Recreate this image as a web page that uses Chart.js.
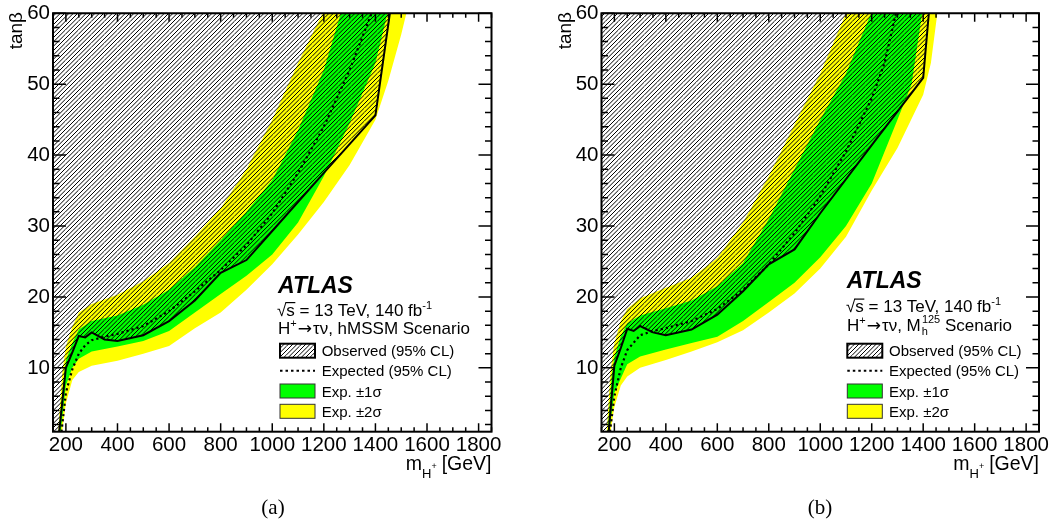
<!DOCTYPE html>
<html lang="en">
<head>
<meta charset="UTF-8">
<title>H+ to tau nu exclusion in the (m_H+, tan beta) plane</title>
<script src="https://cdn.jsdelivr.net/npm/chart.js"></script>
<style>
  body { margin: 0; background: #fff; width: 1055px; height: 524px; overflow: hidden; position: relative; }
  canvas { position: absolute; top: 0; }
  #chartA { left: 0; }
  #chartB { left: 527px; }
</style>
</head>
<body>
<canvas id="chartA" width="527" height="524"></canvas>
<canvas id="chartB" width="528" height="524"></canvas>
<script>
// axis tick labels, shared by both panels
const xTickLabels = [200, 400, 600, 800, 1000, 1200, 1400, 1600, 1800];
const yTickLabels = [10, 20, 30, 40, 50, 60];

// every curve is a list of [m_H+ (GeV), tanβ]

// (a) hMSSM scenario
const obsA = [[174,1],[200,10.0],[225,12.2],[250,14.5],[275,14.3],[300,15.0],[350,14.0],[400,13.8],[500,14.6],
              [600,16.6],[700,19.5],[800,23.4],[900,25.2],[1000,29.3],[1200,37.5],[1400,45.6],[1456,60]];
const expA = [[183,1],[200,6.5],[225,9.8],[250,12.0],[275,13.2],[300,13.9],[350,14.4],[400,14.8],[500,15.9],
              [600,18.0],[700,20.8],[800,23.8],[900,27.3],[1000,31.8],[1100,37.5],[1200,44.0],[1300,52.0],[1385,60]];
const sig1UpA = [[172,1],[190,8],[200,11],[225,13.5],[250,15.4],[300,16.6],[400,17.4],[500,18.9],[600,21.0],
                 [700,24.2],[800,28.0],[900,32.0],[1000,36.5],[1100,43.5],[1200,52.0],[1266,60],[1300,64]];
const sig1DnA = [[180,1],[200,7.5],[225,10],[250,11.3],[300,12.3],[400,13.0],[500,13.8],[600,15.2],[700,17.8],
                 [800,20.4],[900,23.0],[1000,26.0],[1100,30.5],[1200,37.0],[1300,44.5],[1400,53.0],[1450,60.5]];
const sig2UpA = [[170,1],[185,9],[200,13],[225,15.8],[250,17.8],[300,19.0],[400,20.3],[500,22.2],[600,24.8],
                 [700,28.5],[800,32.5],[900,38.0],[1000,45.0],[1100,53.0],[1195,60],[1250,65]];
const sig2DnA = [[185,1],[200,5],[225,8.3],[250,9.4],[300,10.3],[400,11.0],[500,12.0],[600,13.1],[700,15.6],
                 [800,17.8],[900,21.0],[1000,24.6],[1100,28.8],[1200,33.4],[1300,38.6],[1400,45],[1450,50.5],
                 [1500,57],[1520,60]];

// (b) M_h^125 scenario
const obsB = [[178,1],[200,10.3],[225,12.8],[250,15.5],[275,15.2],[300,15.9],[350,15.0],[400,14.6],[500,15.4],
              [600,17.5],[700,20.8],[800,24.6],[900,26.7],[1000,31.8],[1200,41.4],[1400,50.9],[1422,60]];
const expB = [[183,1],[200,6],[225,10],[250,12.5],[300,14.6],[350,15.2],[400,15.6],[500,16.6],[600,18.3],
              [700,21.0],[800,24.6],[900,29.0],[1000,34.2],[1100,40.5],[1200,48.0],[1250,53],[1294,60]];
const sig1UpB = [[174,1],[190,9],[200,11.5],[225,14.5],[250,16.3],[300,17.4],[400,18.4],[500,19.5],[600,21.5],
                 [700,24.8],[800,31.0],[900,38.0],[1000,45.0],[1100,51.5],[1200,60.2],[1250,66]];
const sig1DnB = [[180,1],[200,6.5],[225,8.5],[250,10.5],[300,11.6],[400,12.6],[500,13.5],[600,14.4],[700,16.6],
                 [800,19.3],[900,22.0],[1000,25.6],[1100,30.0],[1200,36.0],[1300,45.0],[1355,50.0],[1400,61]];
const sig2UpB = [[170,1],[185,9.5],[200,13.5],[225,16.6],[250,18.3],[300,19.8],[400,21.3],[500,22.7],[600,25.5],
                 [700,30.5],[800,37.0],[900,44.3],[1000,51.5],[1100,60],[1150,64.5]];
const sig2DnB = [[185,1],[200,4.5],[225,7.5],[250,8.8],[300,10.0],[400,11.1],[500,12.3],[600,13.6],[700,15.3],
                 [800,17.8],[900,20.5],[1000,24.0],[1100,28.5],[1200,35.0],[1300,41.0],[1400,48.5],[1430,53],[1455,60]];

const GREEN = '#00ff00';
const YELLOW = '#ffff00';
const SANS = '"Liberation Sans", Arial, Helvetica, sans-serif';
const ARROW = '17px "DejaVu Sans", sans-serif';

Chart.defaults.font.family = SANS;
Chart.defaults.color = '#000';

// diagonal hatch like ROOT fill style 3004
function hatch() {
  const c = document.createElement('canvas');
  c.width = 13; c.height = 13;
  const g = c.getContext('2d');
  g.strokeStyle = '#000';
  g.lineWidth = 1;
  for (let i = 0; i <= 6; i++) {
    const k = i * 13 / 3;
    g.beginPath(); g.moveTo(0, k); g.lineTo(k, 0); g.stroke();
  }
  return g.createPattern(c, 'repeat');
}

const toXY = pts => pts.map(p => ({ x: p[0], y: p[1] }));
// carry a contour to both frame edges (outside the visible range) so fills close properly
const ext = pts => [[150, 0]].concat(pts, [[1850, 66]]);

// draws a run of text pieces with their own font/offset, returns end x
function textRun(ctx, x, y, parts, measureOnly) {
  for (const p of parts) {
    ctx.font = p.f;
    if (!measureOnly) ctx.fillText(p.t, x, y + (p.dy || 0));
    x += ctx.measureText(p.t).width + (p.gap || 0);
  }
  return x;
}

function makePanel(id, d, lay) {
  const pat = hatch();

  const deco = {
    id: 'deco',
    afterDraw(chart) {
      const ctx = chart.ctx;
      const { left, right, top, bottom } = chart.chartArea;
      const xs = chart.scales.x, ys = chart.scales.y;
      ctx.save();

      // inward ticks on all four sides
      ctx.strokeStyle = '#000';
      ctx.lineWidth = 1.5;
      ctx.beginPath();
      for (let v = 150; v <= 1850; v += 50) {
        const px = xs.getPixelForValue(v);
        const len = xTickLabels.includes(v) ? 8.5 : 4.5;
        ctx.moveTo(px, bottom); ctx.lineTo(px, bottom - len);
        ctx.moveTo(px, top); ctx.lineTo(px, top + len);
      }
      for (let v = 2; v <= 60; v += 2) {
        const py = ys.getPixelForValue(v);
        const len = yTickLabels.includes(v) ? 13 : 6.5;
        ctx.moveTo(left, py); ctx.lineTo(left + len, py);
        ctx.moveTo(right, py); ctx.lineTo(right - len, py);
      }
      ctx.stroke();
      ctx.lineWidth = 2;
      ctx.strokeRect(left, top, right - left, bottom - top);

      ctx.fillStyle = '#000';
      ctx.textBaseline = 'alphabetic';

      // y title, top-aligned like ROOT
      ctx.save();
      ctx.translate(lay.yTitle[0], lay.yTitle[1]);
      ctx.rotate(-Math.PI / 2);
      ctx.textAlign = 'right';
      ctx.font = '19px ' + SANS;
      ctx.fillText('tanβ', 0, 0);
      ctx.restore();

      // x title, right-aligned
      ctx.textAlign = 'left';
      const xt = [
        { t: 'm', f: '19.5px ' + SANS },
        { t: 'H', f: '13px ' + SANS, dy: 8 },
        { t: '+', f: '9px ' + SANS, dy: -1, gap: 5 },
        { t: '[GeV]', f: '19.5px ' + SANS }
      ];
      const w = textRun(ctx, 0, 0, xt, true);
      textRun(ctx, right - w, 470, xt);

      // ATLAS block
      ctx.font = 'italic bold 23px ' + SANS;
      ctx.fillText('ATLAS', lay.atlas[0], lay.atlas[1]);

      const x0 = lay.l2[0], y2 = lay.l2[1];
      ctx.font = '17px ' + SANS;
      const wr = ctx.measureText('√').width;
      const ws = ctx.measureText('s').width;
      ctx.fillRect(x0 + wr - 1, y2 - 13.5, ws + 1.5, 1.2);
      textRun(ctx, x0, y2, [
        { t: '√s = 13 TeV, 140 fb', f: '17px ' + SANS },
        { t: '-1', f: '11px ' + SANS, dy: -7 }
      ]);
      textRun(ctx, lay.l3[0], lay.l3[1], lay.l3parts);

      // legend
      const bx = lay.leg[0], tx = lay.leg[1], bw = 35, bh = 14;
      const rows = [350.7, 370.7, 391, 411.3];
      ctx.font = '15px ' + SANS;
      ctx.fillStyle = pat;
      ctx.fillRect(bx, rows[0] - bh / 2, bw, bh);
      ctx.lineWidth = 2;
      ctx.strokeRect(bx, rows[0] - bh / 2, bw, bh);
      ctx.beginPath();
      ctx.setLineDash([2.5, 3]);
      ctx.moveTo(bx, rows[1]); ctx.lineTo(bx + bw, rows[1]);
      ctx.stroke();
      ctx.setLineDash([]);
      ctx.lineWidth = 1;
      ctx.strokeStyle = '#333';
      ctx.fillStyle = GREEN;
      ctx.fillRect(bx, rows[2] - bh / 2, bw, bh);
      ctx.strokeRect(bx, rows[2] - bh / 2, bw, bh);
      ctx.fillStyle = YELLOW;
      ctx.fillRect(bx, rows[3] - bh / 2, bw, bh);
      ctx.strokeRect(bx, rows[3] - bh / 2, bw, bh);
      ctx.fillStyle = '#000';
      const labels = ['Observed (95% CL)', 'Expected (95% CL)', 'Exp. ±1σ', 'Exp. ±2σ'];
      labels.forEach((s, i) => ctx.fillText(s, tx, rows[i] + 5.5));

      // sub-figure caption
      ctx.textAlign = 'center';
      ctx.font = '21px "Liberation Serif", "Times New Roman", serif';
      ctx.fillText(lay.caption, lay.captionX, 514);
      ctx.restore();
    }
  };

  return new Chart(document.getElementById(id), {
    type: 'line',
    data: {
      datasets: [
        { data: toXY(d.obs), borderColor: '#000', borderWidth: 2, fill: false, order: 0 },
        { data: toXY(d.exp), borderColor: '#000', borderWidth: 2.2, borderDash: [2.2, 3], fill: false, order: 1 },
        { data: toXY(ext(d.obs)), fill: 'end', backgroundColor: pat, borderColor: 'rgba(0,0,0,0)', borderWidth: 0, order: 2 },
        { data: toXY(ext(d.s1up)), fill: 4, backgroundColor: GREEN, borderColor: 'rgba(0,0,0,0)', borderWidth: 0, order: 3 },
        { data: toXY(ext(d.s1dn)), fill: false, borderColor: 'rgba(0,0,0,0)', borderWidth: 0, order: 3 },
        { data: toXY(ext(d.s2up)), fill: 6, backgroundColor: YELLOW, borderColor: 'rgba(0,0,0,0)', borderWidth: 0, order: 4 },
        { data: toXY(ext(d.s2dn)), fill: false, borderColor: 'rgba(0,0,0,0)', borderWidth: 0, order: 4 }
      ]
    },
    options: {
      responsive: false,
      animation: false,
      events: [],
      layout: { padding: { left: 0, top: 11, right: lay.padRight, bottom: 62.3 } },
      elements: { point: { radius: 0 }, line: { tension: 0 } },
      plugins: { legend: { display: false }, tooltip: { enabled: false } },
      scales: {
        x: {
          type: 'linear', min: 150, max: 1850,
          grid: { display: false, drawTicks: false }, border: { display: false },
          afterBuildTicks: s => { s.ticks = xTickLabels.map(v => ({ value: v })); },
          afterFit: s => { s.height = 30; },
          ticks: { autoSkip: false, maxRotation: 0, padding: 3, font: { size: 20.5, lineHeight: 1 },
                   callback: v => String(v) }
        },
        y: {
          min: 1, max: 60,
          grid: { display: false, drawTicks: false }, border: { display: false },
          afterBuildTicks: s => { s.ticks = yTickLabels.map(v => ({ value: v })); },
          afterFit: s => { s.width = lay.yAxisW; },
          ticks: { autoSkip: false, padding: 3, font: { size: 20.5, lineHeight: 1 },
                   callback: v => String(v) }
        }
      }
    },
    plugins: [deco]
  });
}

makePanel('chartA',
  { obs: obsA, exp: expA, s1up: sig1UpA, s1dn: sig1DnA, s2up: sig2UpA, s2dn: sig2DnA },
  {
    yAxisW: 53, padRight: 35.5, yTitle: [22, 12],
    atlas: [278, 292.5], l2: [277, 315.5], l3: [278, 334],
    l3parts: [
      { t: 'H', f: '17px ' + SANS },
      { t: '+', f: '11px ' + SANS, dy: -7, gap: 1 },
      { t: '→', f: ARROW, gap: 1 },
      { t: 'τν, hMSSM Scenario', f: '17px ' + SANS }
    ],
    leg: [280, 321.7], caption: '(a)', captionX: 273
  });

makePanel('chartB',
  { obs: obsB, exp: expB, s1up: sig1UpB, s1dn: sig1DnB, s2up: sig2UpB, s2dn: sig2DnB },
  {
    yAxisW: 74.5, padRight: 16, yTitle: [44, 12],
    atlas: [319.7, 287.5], l2: [319, 312], l3: [320, 331],
    l3parts: [
      { t: 'H', f: '17px ' + SANS },
      { t: '+', f: '11px ' + SANS, dy: -7, gap: 1 },
      { t: '→', f: ARROW, gap: 1 },
      { t: 'τν, M', f: '17px ' + SANS, gap: 1 },
      { t: 'h', f: '11px ' + SANS, dy: 4, gap: -6 },
      { t: '125', f: '11px ' + SANS, dy: -8 },
      { t: ' Scenario', f: '17px ' + SANS }
    ],
    leg: [320.3, 362], caption: '(b)', captionX: 293
  });
</script>
</body>
</html>
